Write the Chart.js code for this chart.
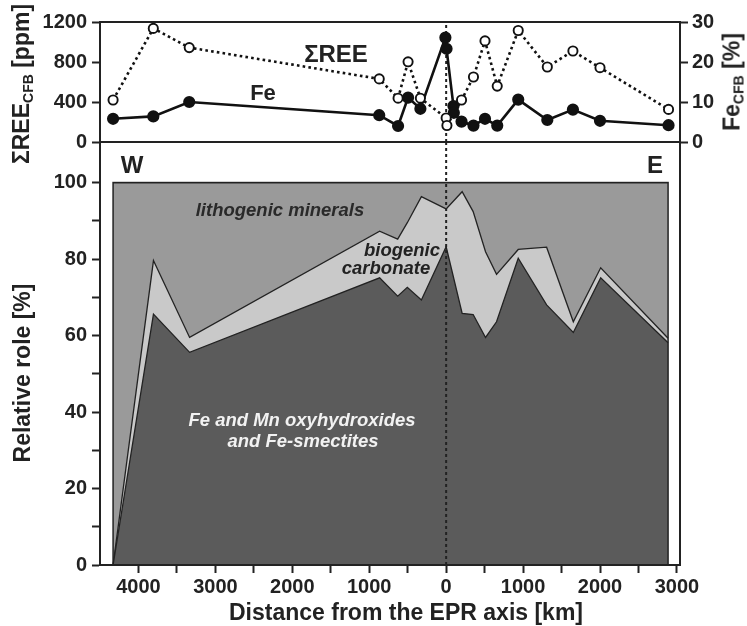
<!DOCTYPE html>
<html>
<head>
<meta charset="utf-8">
<script src="https://cdn.jsdelivr.net/npm/chart.js@4.4.1/dist/chart.umd.min.js"></script>
<style>
  html, body { margin: 0; padding: 0; background: #fff; }
  #wrap { position: relative; width: 747px; height: 626px; overflow: hidden;
          font-family: "Liberation Sans", Arial, sans-serif; font-weight: bold; color: #222; }
  #wrap canvas { position: absolute; left: 0; top: 0; }
  .lbl { position: absolute; line-height: 1; white-space: nowrap; }
  .c { transform: translate(-50%, -50%); }
  .rot { transform: translate(-50%, -50%) rotate(-90deg); font-size: 23px; }
  .rot sub { font-size: 14px; vertical-align: -4px; }
  .it { font-style: italic; font-size: 18.5px; }
</style>
</head>
<body>
<div id="wrap">
  <canvas id="roleChart" width="747" height="626"></canvas>
  <canvas id="cfbChart" width="747" height="626"></canvas>

  <div class="lbl rot" style="left:22px; top:84px;">ΣREE<sub>CFB</sub> [ppm]</div>
  <div class="lbl rot" style="left:733px; top:82px;">Fe<sub>CFB</sub> [%]</div>
  <div class="lbl rot" style="left:22px; top:373px;">Relative role [%]</div>
  <div class="lbl c" style="left:406px; top:612px; font-size:23px;">Distance from the EPR axis [km]</div>

  <div class="lbl c" style="left:336px; top:54px; font-size:24px;">ΣREE</div>
  <div class="lbl c" style="left:263px; top:93px; font-size:22px;">Fe</div>
  <div class="lbl c" style="left:132px; top:165px; font-size:24px;">W</div>
  <div class="lbl c" style="left:655px; top:165px; font-size:24px;">E</div>

  <div class="lbl it c" style="left:280px; top:210px; color:#2a2a2a;">lithogenic minerals</div>
  <div class="lbl it c" style="left:402px; top:250px;">biogenic</div>
  <div class="lbl it c" style="left:386px; top:268px;">carbonate</div>
  <div class="lbl it c" style="left:302px; top:420px; color:#f2f2f2;">Fe and Mn oxyhydroxides</div>
  <div class="lbl it c" style="left:303px; top:441px; color:#f2f2f2;">and Fe-smectites</div>
</div>

<script>
// distance from the EPR axis, km (west is negative, labels show absolute values)
const xMin = -4500;
const xMax = 3040;
const distTickKm     = [-4000, -3500, -3000, -2500, -2000, -1500, -1000, -500, 0, 500, 1000, 1500, 2000, 2500, 3000];
const distTickLabels = ['4000', '', '3000', '', '2000', '', '1000', '', '0', '', '1000', '', '2000', '', '3000'];

// top panel: sediment samples
const reeDistKm = [-4330, -3807, -3340, -870, -625, -495, -335, 0, 10, 200, 355, 505, 664, 937, 1315, 1648, 2000, 2891];
const reePpm    = [420, 1136, 944, 631, 438, 802, 438, 240, 165, 420, 650, 1011, 559, 1115, 750, 910, 743, 326];

const feDistKm = [-4330, -3807, -3340, -870, -625, -495, -335, -10, 5, 95, 100, 200, 355, 505, 664, 937, 1315, 1648, 2000, 2891];
const fePct    = [5.8, 6.4, 10.0, 6.7, 4.0, 11.1, 8.3, 26.1, 23.3, 9.0, 7.3, 5.1, 4.1, 5.8, 4.1, 10.6, 5.5, 8.1, 5.3, 4.2];

// bottom panel: relative role of the components, %
const roleDistKm   = [-4330, -3805, -3335, -865, -630, -505, -322, 0, 208, 351, 512, 655, 937, 1306, 1653, 2009, 2885];
const feMnPct      = [0, 65.6, 55.6, 75.1, 70.3, 72.6, 69.3, 83.2, 65.8, 65.5, 59.5, 63.6, 80.2, 68.0, 60.8, 75.1, 58.1];
const carbonatePct = [0, 14.0, 3.9, 12.2, 14.9, 16.9, 27.0, 9.9, 31.8, 26.9, 22.4, 12.4, 2.3, 15.1, 2.8, 2.6, 1.2];
const lithogenicPct = [100, 20.4, 40.5, 12.7, 14.8, 10.5, 3.7, 6.9, 2.4, 7.6, 18.1, 24.0, 17.5, 16.9, 36.4, 22.3, 40.7];

const roleMax = 110.6;
const ink = '#222';

Chart.defaults.font.family = "'Liberation Sans', Arial, sans-serif";
Chart.defaults.font.weight = 'bold';
Chart.defaults.font.size = 20;
Chart.defaults.color = ink;

const pts = (xs, ys) => xs.map((x, i) => ({ x: x, y: ys[i] }));

// frame round the plot area, plus the outline of the stacked box
const framePlugin = {
  id: 'frame',
  afterDraw(chart, args, opts) {
    const ctx = chart.ctx;
    const a = chart.chartArea;
    ctx.save();
    ctx.strokeStyle = ink;
    if (opts.box) {
      const x = chart.scales.x, y = chart.scales.y;
      const l = x.getPixelForValue(roleDistKm[0]);
      const r = x.getPixelForValue(roleDistKm[roleDistKm.length - 1]);
      const t = y.getPixelForValue(100), b = y.getPixelForValue(0);
      ctx.lineWidth = 1.5;
      ctx.strokeRect(l, t, r - l, b - t);
    }
    ctx.lineWidth = 2;
    ctx.strokeRect(a.left, a.top, a.right - a.left, a.bottom - a.top);
    ctx.restore();
  }
};

const axisGrid = { drawOnChartArea: false, tickLength: 8, tickWidth: 2, color: ink };
const axisBorder = { display: true, width: 2, color: ink };

new Chart(document.getElementById('roleChart'), {
  type: 'line',
  data: {
    datasets: [
      { label: 'Fe and Mn oxyhydroxides and Fe-smectites', data: pts(roleDistKm, feMnPct),
        borderColor: ink, borderWidth: 1.3, backgroundColor: '#5b5b5b', fill: 'origin', pointRadius: 0 },
      { label: 'biogenic carbonate', data: pts(roleDistKm, carbonatePct),
        borderColor: ink, borderWidth: 1.3, backgroundColor: '#c9c9c9', fill: '-1', pointRadius: 0 },
      { label: 'lithogenic minerals', data: pts(roleDistKm, lithogenicPct),
        borderColor: ink, borderWidth: 1.3, backgroundColor: '#9a9a9a', fill: '-1', pointRadius: 0 },
      { label: 'EPR axis', data: [{ x: 0, y: 0 }, { x: 0, y: roleMax }], stack: 'axis', order: -1,
        borderColor: ink, borderWidth: 2, borderDash: [3, 3], fill: false, pointRadius: 0 }
    ]
  },
  options: {
    responsive: false,
    animation: false,
    devicePixelRatio: 1,
    layout: { padding: { top: 142, right: 67, bottom: 0, left: 0 } },
    plugins: { legend: { display: false }, tooltip: { enabled: false }, frame: { box: true } },
    scales: {
      x: {
        type: 'linear', min: xMin, max: xMax,
        afterBuildTicks: s => { s.ticks = distTickKm.map(v => ({ value: v })); },
        ticks: { display: true, color: ink, autoSkip: false, maxRotation: 0, padding: 2,
                 callback: (v, i) => distTickLabels[i] },
        grid: axisGrid, border: axisBorder,
        afterFit: s => { s.height = 61; }
      },
      y: {
        stacked: true, min: 0, max: roleMax,
        ticks: { stepSize: 10, padding: 5, callback: v => (v % 20 === 0 ? String(v) : '') },
        afterBuildTicks: s => { s.ticks = s.ticks.filter(t => t.value <= 100); },
        grid: axisGrid, border: axisBorder,
        afterFit: s => { s.width = 100; }
      }
    }
  },
  plugins: [framePlugin]
});

new Chart(document.getElementById('cfbChart'), {
  type: 'line',
  data: {
    datasets: [
      { label: 'ΣREE', data: pts(reeDistKm, reePpm), yAxisID: 'yRee',
        borderColor: '#111', borderWidth: 2.6, borderDash: [2.6, 3.2],
        pointRadius: 4.6, pointBorderWidth: 1.9, pointBackgroundColor: '#fff', pointBorderColor: '#111', fill: false },
      { label: 'Fe', data: pts(feDistKm, fePct), yAxisID: 'yFe',
        borderColor: '#111', borderWidth: 2.6,
        pointRadius: 4.8, pointBackgroundColor: '#111', pointBorderColor: '#111', fill: false },
      { label: 'EPR axis', data: [{ x: 0, y: 0 }, { x: 0, y: 1200 }], yAxisID: 'yRee', order: 5,
        borderColor: ink, borderWidth: 2, borderDash: [3, 3], fill: false, pointRadius: 0 }
    ]
  },
  options: {
    responsive: false,
    animation: false,
    devicePixelRatio: 1,
    layout: { padding: { top: 22, right: 0, bottom: 484, left: 0 } },
    plugins: { legend: { display: false }, tooltip: { enabled: false }, frame: { box: false } },
    scales: {
      x: { type: 'linear', min: xMin, max: xMax, display: false },
      yRee: {
        position: 'left', min: 0, max: 1200,
        ticks: { stepSize: 400, padding: 5, callback: v => String(v) },
        grid: axisGrid, border: axisBorder,
        afterFit: s => { s.width = 100; }
      },
      yFe: {
        position: 'right', min: 0, max: 30,
        ticks: { stepSize: 10, padding: 4, callback: v => String(v) },
        grid: axisGrid, border: axisBorder,
        afterFit: s => { s.width = 67; }
      }
    }
  },
  plugins: [framePlugin]
});
</script>
</body>
</html>
